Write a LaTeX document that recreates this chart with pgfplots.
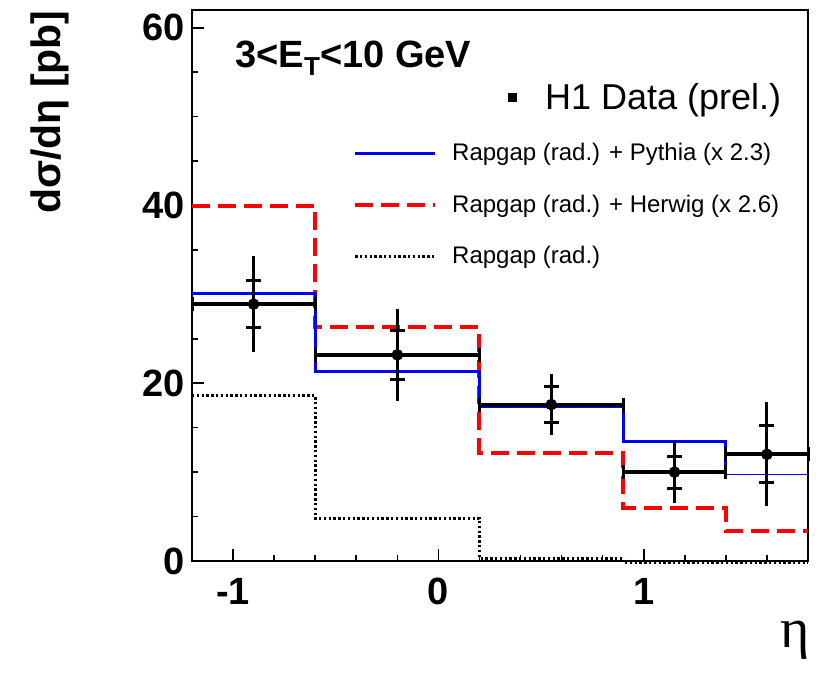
\documentclass[border=0pt]{standalone}
\usepackage{pgfplots}
\pgfplotsset{compat=1.18}
\usepackage{pgfplotstable}
\usepackage{fontspec}
\setmainfont{Liberation Sans}
\newfontfamily\seriffont{Liberation Serif}

\pgfplotstableread{
x y ex estat etot
-0.9 28.9 0.3 2.65 5.4
-0.2 23.2 0.4 2.75 5.15
0.55 17.6 0.35 2.05 3.4
1.15 10.0 0.25 1.8 3.45
1.6 12.0 0.2 3.2 5.85
}\hdata

\pgfplotstableread{
x y
-1.2 30.1
-0.6 21.3
0.2 17.4
0.9 13.4
1.4 9.7
}\pythia

\pgfplotstableread{
x y
1.4 9.7
1.8 9.7
}\pythiatail

\pgfplotstableread{
x y
-1.2 40.0
-0.6 26.3
0.2 12.2
0.9 6.0
1.4 3.4
1.8 3.4
}\herwig

\pgfplotstableread{
x y
-1.2 18.6
-0.6 4.8
0.2 0.3
0.9 -0.2
1.8 -0.2
}\rapgap

\begin{document}
\begin{tikzpicture}
\begin{axis}[
  width=308pt, height=275.5pt, scale only axis,
  xmin=-1.2, xmax=1.8, ymin=0, ymax=62,
  xtick={-1,0,1}, xticklabels={-1,0,1},
  ytick={0,20,40,60}, yticklabels={0,20,40,60},
  minor xtick={-1.2,-0.8,-0.6,-0.4,-0.2,0.2,0.4,0.6,0.8,1.2,1.4,1.6},
  minor ytick={5,10,15,25,30,35,45,50,55},
  xtick pos=bottom, ytick pos=left,
  tick align=inside,
  major tick length=6pt, minor tick length=3pt,
  tick style={black, line width=0.8pt},
  axis line style={line width=0.9pt},
  ticklabel style={font=\fontsize{19}{19}\selectfont\bfseries},
  xticklabel style={yshift=-5pt},
  ylabel={\fontsize{20.5}{20.5}\selectfont\bfseries dσ/dη [pb]},
  ylabel style={at={(axis description cs:-0.23,1)}, anchor=east, inner sep=0pt},
  xlabel={\seriffont\fontsize{28}{28}\selectfont η},
  xlabel style={at={(axis description cs:0.979,-0.143)}, anchor=center, inner sep=0pt},
  clip=false,
  legend image code/.code={\draw[#1] (0pt,0pt) -- (40pt,0pt);},
  legend style={at={(axis description cs:0.261,0.875)}, anchor=north west,
    draw=none, fill=none, inner sep=0pt, row sep=11.5pt, column sep=5.5pt,
    font=\fontsize{12}{12}\selectfont,
    cells={anchor=west, inner sep=0pt}},
  legend cell align=left,
]
% legend entries
\addlegendimage{legend image code/.code={\fill[black,overlay] (76.5pt,-2pt) rectangle (80.5pt,2pt);}}
\addlegendentry{\fontsize{18}{18}\selectfont\hspace{46.5pt}H1 Data (prel.)}
\addlegendimage{blue, line width=1.5pt}
\addlegendentry{Rapgap (rad.) + Pythia (x 2.3)}
\addlegendimage{red, line width=2pt, dash pattern=on 9pt off 4pt}
\addlegendentry{Rapgap (rad.) + Herwig (x 2.6)}
\addlegendimage{black, line width=1.5pt, dash pattern=on 1.2pt off 1.2pt}
\addlegendentry{Rapgap (rad.)}

% histograms
\addplot[forget plot, black, line width=1.5pt, dash pattern=on 1.2pt off 1.2pt, const plot mark left, mark=none] table[x=x,y=y]{\rapgap};
\addplot[forget plot, red, line width=2pt, dash pattern=on 9pt off 4pt, const plot mark left, mark=none] table[x=x,y=y]{\herwig};
\addplot[forget plot, blue, line width=1.5pt, const plot mark left, mark=none] table[x=x,y=y]{\pythia};
\addplot[forget plot, blue, line width=0.6pt, mark=none] table[x=x,y=y]{\pythiatail};

% data: total errors
\addplot[forget plot, only marks, mark=none,
  error bars/.cd, y dir=both, y explicit, error mark=none,
  error bar style={draw=black, line width=1.5pt}]
  table[x=x, y=y, y error=etot]{\hdata};
% data: statistical errors with ticks
\addplot[forget plot, only marks, mark=none,
  error bars/.cd, y dir=both, y explicit, error mark=|,
  error bar style={draw=black, line width=1.5pt},
  error mark options={black, line width=1.5pt, mark size=3.75pt}]
  table[x=x, y=y, y error=estat]{\hdata};
% data: horizontal bin bars
\addplot[forget plot, only marks, mark=none,
  error bars/.cd, x dir=both, x explicit, error mark=|,
  error bar style={draw=black, line width=2pt},
  error mark options={black, line width=1.5pt, mark size=3.5pt}]
  table[x=x, y=y, x error=ex]{\hdata};
% data points
\addplot[forget plot, only marks, mark=*, mark size=2.7pt, black] table[x=x,y=y]{\hdata};

\node[anchor=base west, inner sep=0pt] at (axis description cs:0.070,0.896)
  {\fontsize{19}{19}\selectfont\bfseries 3<E\raisebox{-0.4ex}{\fontsize{13}{13}\selectfont T}<10 GeV};
\end{axis}
\path (current axis.south west) ++(-96pt,-55.5pt) coordinate (BL);
\path (current axis.north east) ++(6.5pt,5pt) coordinate (TR);
\path (BL) rectangle (TR);
\end{tikzpicture}
\end{document}
